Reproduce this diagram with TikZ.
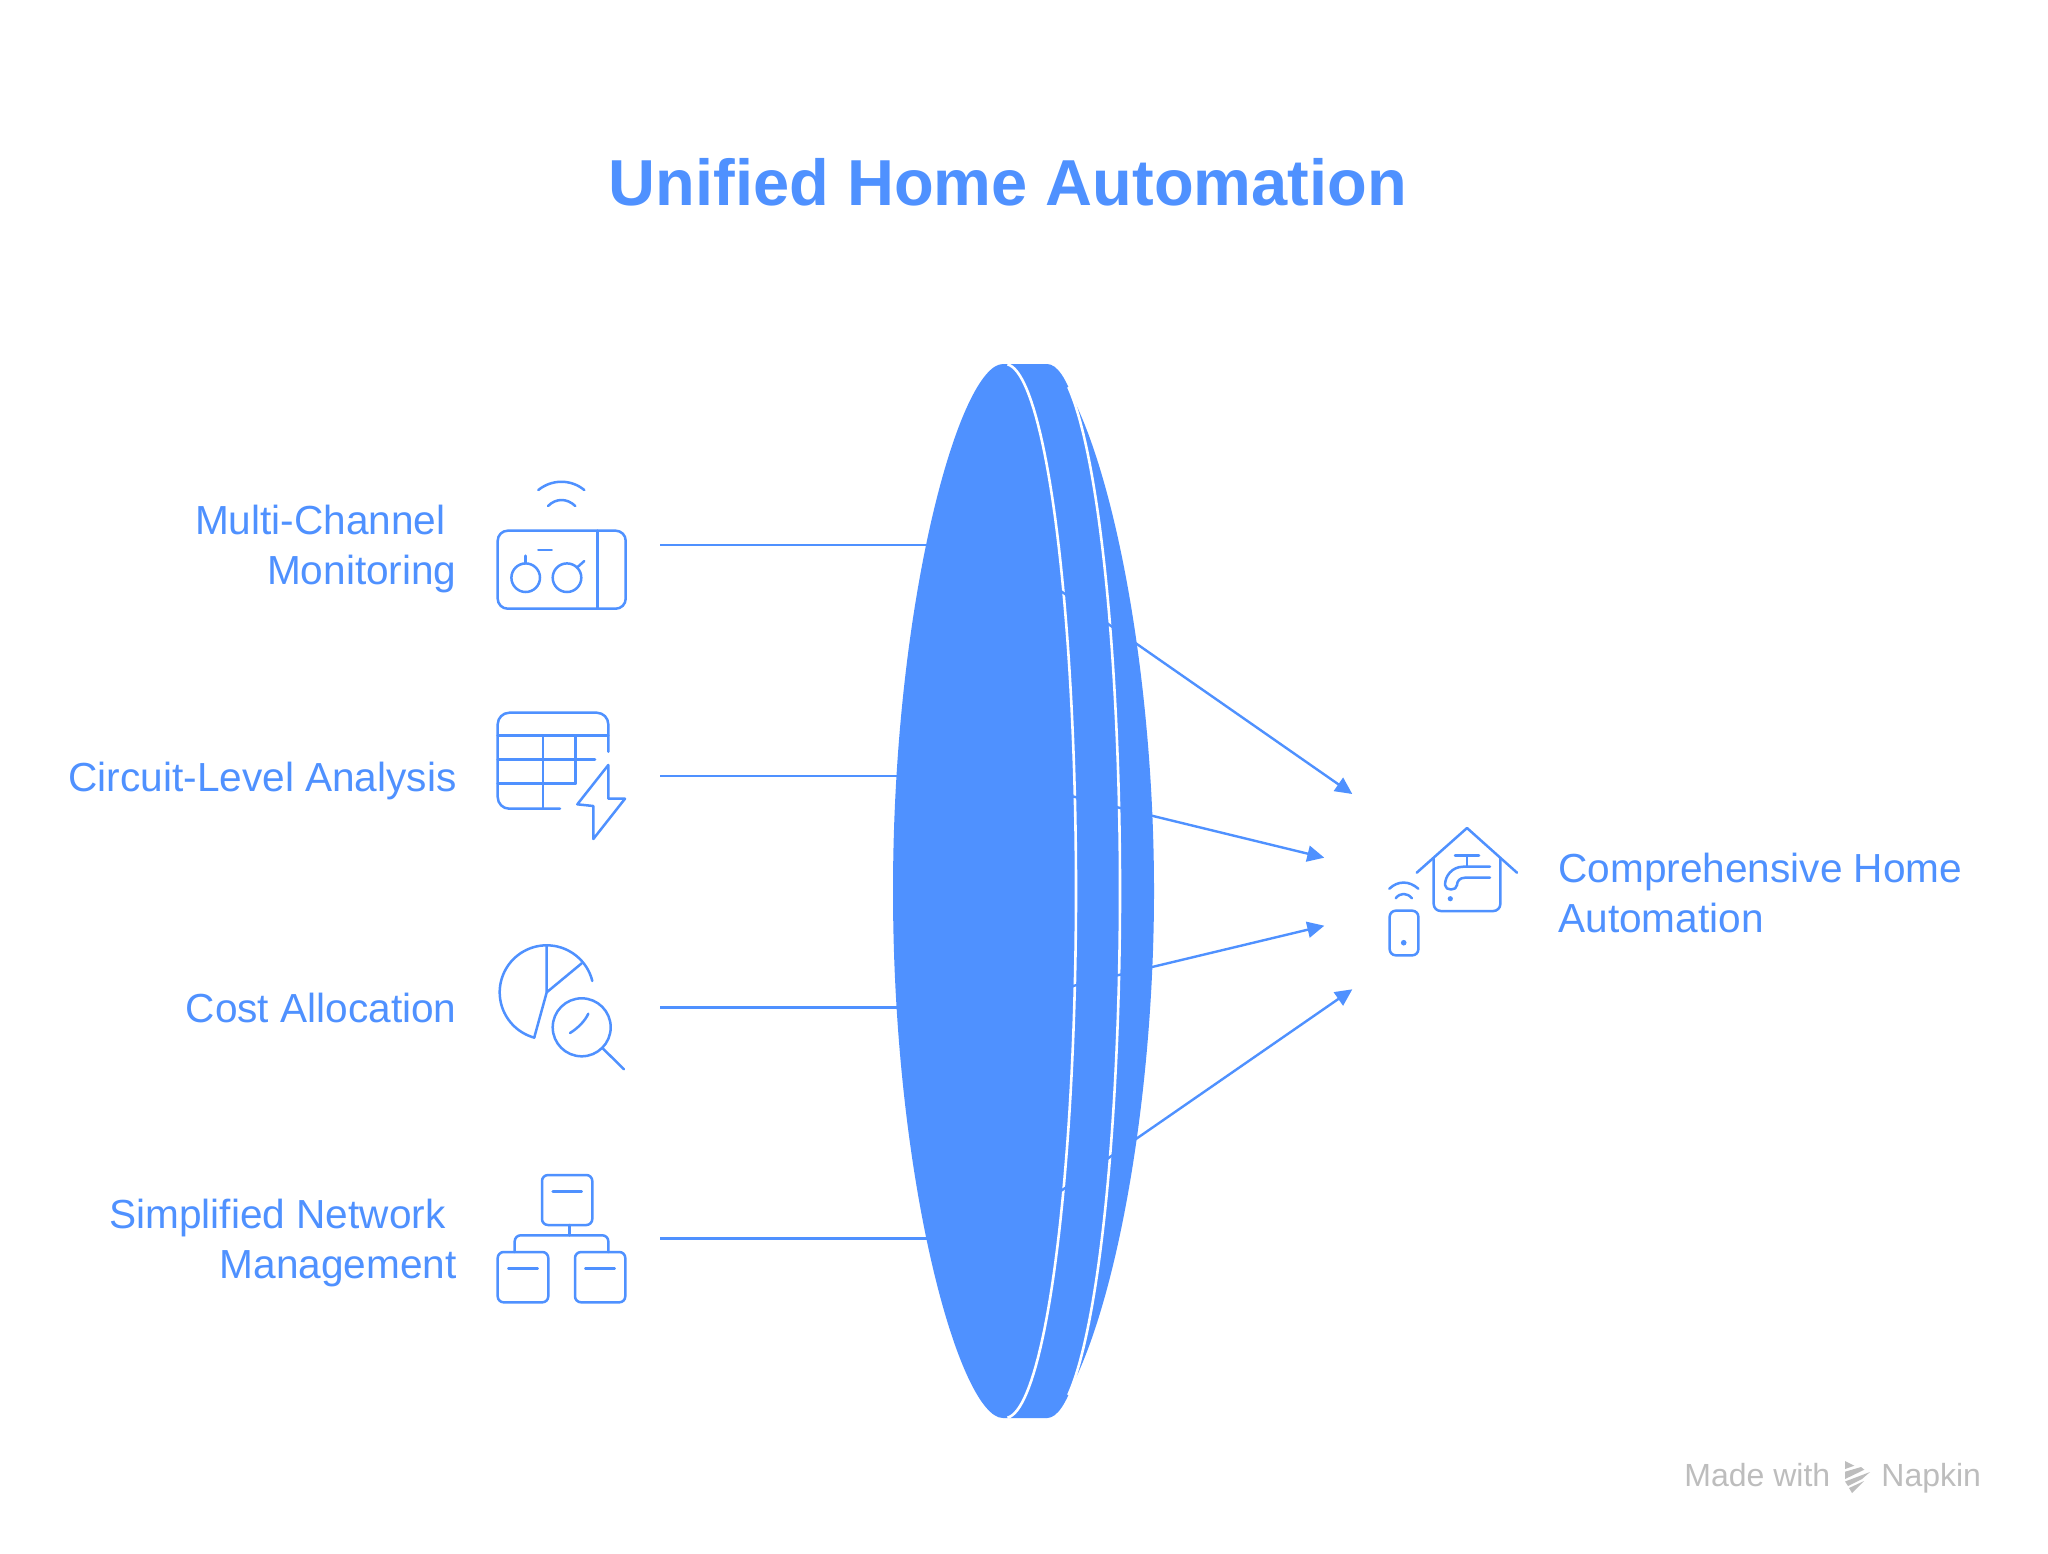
\documentclass[tikz,border=0pt]{standalone}
\usepackage{fontspec}
\setmainfont{Liberation Sans}
\usetikzlibrary{arrows.meta}
\definecolor{nblue}{HTML}{4F91FF}
\definecolor{ngray}{HTML}{BDBDBD}
\tikzset{
  lbl/.style={text=nblue,font=\fontsize{20.3pt}{24.8pt}\selectfont,inner sep=0pt},
  icon/.style={draw=nblue,line width=1.25pt,line cap=round,line join=round},
  conn/.style={draw=nblue,line width=1.2pt},
  arrowconn/.style={conn,-{Triangle[length=8.5pt,width=8pt]}},
  sep/.style={draw=white,line width=1.3pt},
}
\begin{document}
\begin{tikzpicture}[x=0.5pt,y=-0.5pt]
\useasboundingbox (0,0) rectangle (2048,1553);
\fill[white] (0,0) rectangle (2048,1553);
% title
\node[text=nblue,font=\fontsize{32.5pt}{40pt}\selectfont\bfseries,inner sep=0pt] (title) at (1008,182) {Unified Home Automation};
% lens
\fill[nblue] (1047,364) -- (1047,891) -- (1047,1418) -- (1066,1397) .. controls (1115,1312) and (1154,1102) .. (1154,891) .. controls (1154,680) and (1115,470) .. (1066,385) -- cycle;
\fill[nblue] (1047,891) ellipse [x radius=73,y radius=527];
\fill[nblue] (1003,364) .. controls (960,364) and (893,600) .. (893,891) .. controls (893,1182) and (960,1418) .. (1003,1418) -- (1047,1418) -- (1047,364) -- cycle;
\draw[sep] plot[domain=-88:88,samples=90] ({1005+71*cos(\x)},{891+527*sin(\x)});
\draw[sep] plot[domain=-73:73,samples=90] ({1047+73*cos(\x)},{891+527*sin(\x)});
% connector ends
\coordinate (in1) at (660,545);   \coordinate (lens1) at (930,545);
\coordinate (in2) at (660,776);   \coordinate (lens2) at (900,776);
\coordinate (in3) at (660,1007.3);\coordinate (lens3) at (900,1007.3);
\coordinate (in4) at (660,1238.3);\coordinate (lens4) at (930,1238.3);
\coordinate (out1) at (1055,587);  \coordinate (tip1) at (1352.3,794);
\coordinate (out2) at (1062,793.8);\coordinate (tip2) at (1324.3,857.7);
\coordinate (out3) at (1062,988.6);\coordinate (tip3) at (1324.3,925.7);
\coordinate (out4) at (1055,1195); \coordinate (tip4) at (1352.3,989.3);
\foreach \n in {1,2,3,4}{\draw[conn] (in\n) -- (lens\n);}
\foreach \n in {1,2,3,4}{\draw[arrowconn] (out\n) -- (tip\n);}
% labels
\node[lbl,anchor=east,align=right] (a) at (457,549) {Multi-Channel\hspace*{5.5pt}\\Monitoring};
\node[lbl,anchor=east] (b) at (457,781) {Circuit-Level Analysis};
\node[lbl,anchor=east] (c) at (457,1008) {Cost Allocation};
\node[lbl,anchor=east,align=right] (d) at (457,1243) {Simplified Network\hspace*{5.5pt}\\Management};
\node[lbl,anchor=west,align=left] (e) at (1558,893) {Comprehensive Home\\Automation};
% icon 1
\draw[icon] (538.3,490) .. controls (552,479) and (571,479) .. (584.3,490);
\draw[icon] (548,506) .. controls (556,498) and (567,498) .. (575.3,506);
\draw[icon,rounded corners=5pt] (497.7,530.7) rectangle (625.7,608.7);
\draw[icon] (597.7,530.7) -- (597.7,608.7);
\draw[icon] (538.3,550) -- (551.7,550);
\draw[icon] (525.7,577.7) circle [radius=14.3];
\draw[icon] (567,577.7) circle [radius=14.3];
\draw[icon] (525.7,555.7) -- (525.7,563.3);
\draw[icon] (577.3,567.3) -- (584.3,561);
% icon 2
\draw[icon,rounded corners=5.8pt] (608.3,751.7) -- (608.3,712.7) -- (497.7,712.7) -- (497.7,808.7) -- (560,808.7);
\draw[icon] (497.7,735.7) -- (608.3,735.7);
\draw[icon] (497.7,759.3) -- (595,759.3);
\draw[icon] (497.7,783.7) -- (575.7,783.7);
\draw[icon] (543,735.7) -- (543,808.7);
\draw[icon] (575.7,735.7) -- (575.7,783.7);
\draw[icon] (608.3,765) -- (577.3,804.3) -- (593.3,806) -- (593.3,839) -- (625,798.7) -- (608.3,798.7) -- cycle;
% icon 3
\draw[icon] (534.3,1037.3) -- plot[domain=105.4:346,samples=70] ({546.7+47*cos(\x)},{992.3+47*sin(\x)});
\draw[icon] (534.3,1037.3) -- (546.7,992.3) -- (546.7,945.7);
\draw[icon] (546.7,992.3) -- (581.7,963.3);
\draw[icon] (581.7,1027.3) circle [radius=29];
\draw[icon] (602.7,1048.3) -- (624,1069.3);
\draw[icon] (570,1033) .. controls (578,1028) and (585,1021) .. (588.3,1013.7);
% icon 4
\draw[icon,rounded corners=3pt] (542,1175) rectangle (592.3,1225);
\draw[icon] (552.7,1191.7) -- (581.7,1191.7);
\draw[icon] (569.7,1225) -- (569.7,1235.3);
\draw[icon,rounded corners=3pt] (514.7,1252) -- (514.7,1235.3) -- (608.3,1235.3) -- (608.3,1252);
\draw[icon,rounded corners=3pt] (497.7,1252) rectangle (548.3,1302.3);
\draw[icon,rounded corners=3pt] (575,1252) rectangle (625.3,1302.3);
\draw[icon] (508.3,1268.7) -- (537.7,1268.7);
\draw[icon] (585.3,1268.7) -- (614.7,1268.7);
% icon 5
\draw[icon] (1416.7,872.7) -- (1467,828) -- (1517,872.7);
\draw[icon,rounded corners=3.5pt] (1433.7,858.3) -- (1433.7,911) -- (1500.3,911) -- (1500.3,858.3);
\draw[icon] (1455,855.7) -- (1479,855.7);
\draw[icon] (1467,855.7) -- (1467,866.7);
\draw[icon] (1490,866.7) -- (1463.3,866.7) .. controls (1452,866.7) and (1445,876) .. (1445,885) .. controls (1445,891) and (1457,891) .. (1457,885) .. controls (1457,881) and (1460,877.7) .. (1465,877.7) -- (1490,877.7);
\fill[nblue] (1450.3,898.7) circle [radius=2.6];
\draw[icon,rounded corners=3pt] (1389.7,910.7) rectangle (1418.3,955.3);
\fill[nblue] (1403.7,942.7) circle [radius=2.8];
\draw[icon] (1389.3,888.7) .. controls (1398,880.5) and (1409,880.5) .. (1418.3,888.7);
\draw[icon] (1395.7,898.3) .. controls (1400,892.5) and (1407,892.5) .. (1412,898.3);
% footer
\node[text=ngray,font=\fontsize{16pt}{18pt}\selectfont,anchor=base west,inner sep=0pt] (made) at (1684,1486) {Made with};
\node[text=ngray,font=\fontsize{16pt}{18pt}\selectfont,anchor=base west,inner sep=0pt] (nap) at (1881,1486) {Napkin};
\fill[ngray] (1845,1461) -- (1854.3,1465.7) -- (1845,1469) -- cycle;
\fill[ngray] (1845,1471.7) -- (1861,1467) -- (1864.3,1469.7) -- (1845,1479) -- cycle;
\fill[ngray] (1845,1481.5) -- (1870,1472) -- (1862,1479) -- (1848,1486) -- cycle;
\fill[ngray] (1849,1488) -- (1864,1481) -- (1852,1493) -- cycle;
\end{tikzpicture}
\end{document}
